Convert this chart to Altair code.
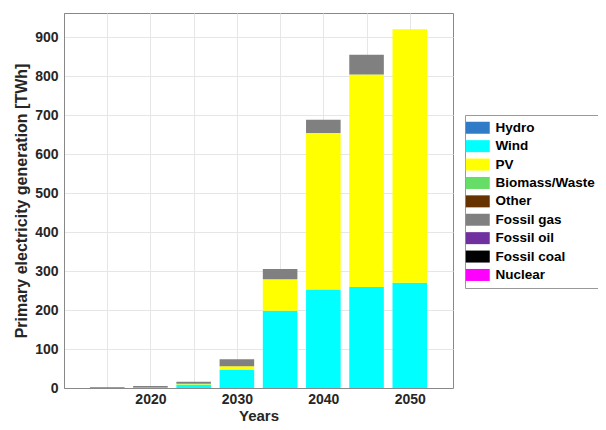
import altair as alt
import pandas as pd

years = [2015, 2020, 2025, 2030, 2035, 2040, 2045, 2050]
series = ["Hydro", "Wind", "PV", "Biomass/Waste", "Other", "Fossil gas", "Fossil oil", "Fossil coal", "Nuclear"]
colors = ["#2F7BC8", "#00FFFF", "#FFFF00", "#66DD66", "#663300", "#808080", "#7030A0", "#000000", "#FF00FF"]

hydro = [0, 0, 0, 0, 0, 0, 0, 0]
wind = [0.5, 1, 9, 46, 198, 253, 259, 270]
pv = [0, 0, 2, 10, 81, 401, 545, 650]
biomass = [0, 0, 0, 0, 0, 0, 0, 0]
other = [0, 0, 0, 0, 0, 0, 0, 0]
gas = [2, 4, 5, 18, 26, 34, 51, 0]
oil = [0, 0, 0, 0, 0, 0, 0, 0]
coal = [0, 0, 0, 0, 0, 0, 0, 0]
nuclear = [0, 0, 0, 0, 0, 0, 0, 0]

values = [hydro, wind, pv, biomass, other, gas, oil, coal, nuclear]
rows = []
for si, (name, vals) in enumerate(zip(series, values)):
    for y, v in zip(years, vals):
        rows.append({"year": y, "x0": y - 2, "x1": y + 2, "source": name, "order": si, "value": v})
df = pd.DataFrame(rows)

font = "Liberation Sans"

bars = alt.Chart(df).transform_stack(
    stack="value", groupby=["year"], as_=["v0", "v1"],
    sort=[alt.SortField("order", order="ascending")],
).mark_bar(stroke=None).encode(
    x=alt.X("x0:Q", scale=alt.Scale(domain=[2010, 2055], nice=False, zero=False),
            axis=alt.Axis(values=list(range(2015, 2051, 5)),
                          labelExpr="datum.value % 10 == 0 ? datum.label : ''",
                          title="Years", format="d", titleY=32, titleBaseline="alphabetic")),
    x2="x1:Q",
    y=alt.Y("v0:Q", scale=alt.Scale(domain=[0, 962], nice=False),
            axis=alt.Axis(values=list(range(0, 901, 100)),
                          title="Primary electricity generation [TWh]")),
    y2="v1:Q",
    color=alt.Color("source:N", scale=alt.Scale(domain=series, range=colors),
                    legend=alt.Legend(title=None, orient="none", legendX=401, legendY=102,
                                      symbolType="M-2,-1L2,-1L2,1L-2,1Z", symbolSize=144,
                                      symbolStrokeWidth=0, labelOffset=11,
                                      strokeColor="#999999", fillColor="white", padding=6,
                                      rowPadding=3.4, labelFont=font, labelFontSize=13.5,
                                      labelFontWeight="bold", labelColor="#000000",
                                      symbolOpacity=1)),
)

chart = bars.properties(
    width=389, height=375,
    autosize=alt.AutoSizeParams(type="none"),
    padding={"left": 56, "top": 5, "right": 145, "bottom": 34},
).configure_view(
    stroke="#888888", strokeWidth=1
).configure_axis(
    labelFont=font, labelFontSize=14, labelFontWeight="bold", labelColor="#262626",
    titleFont=font, titleFontSize=16, titleFontWeight="bold", titleColor="#262626",
    gridColor="#e6e6e6", gridWidth=1, domainColor="#888888", tickColor="#888888",
    tickSize=0, labelPadding=6,
).configure_axisY(titlePadding=5).configure_axisX(labelPadding=4, titleFontSize=15)

chart.save("out.html", embed_options={"renderer": "svg", "actions": False})
